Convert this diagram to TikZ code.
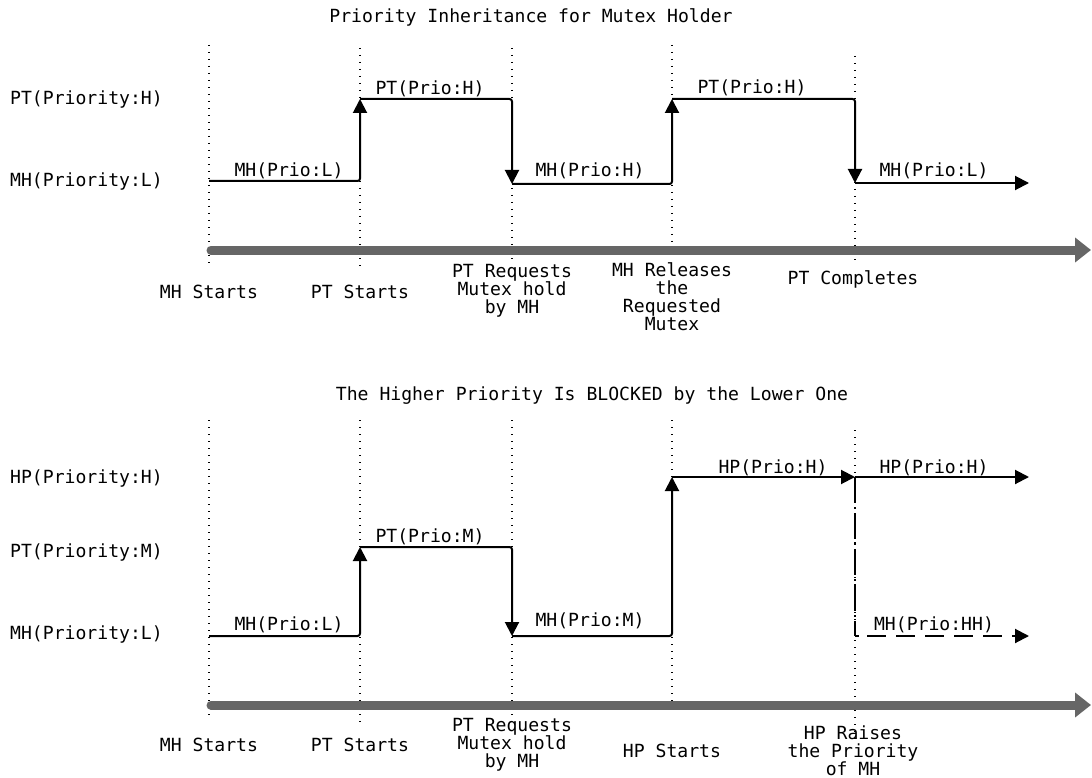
\documentclass[tikz,border=0pt]{standalone}
\usepackage{fontspec}
\setmonofont{DejaVu Sans Mono}
\usetikzlibrary{arrows.meta}
\begin{document}
\begin{tikzpicture}[x=1pt,y=-1pt,
  every node/.style={font=\ttfamily\fontsize{18.1}{18}\selectfont, inner sep=0pt},
  guide/.style={line width=1.4pt, dash pattern=on 1.4pt off 5.6pt, black},
  sig/.style={line width=2pt, rounded corners=2.5pt, -{Triangle[length=14pt,width=14pt]}},
  sigplain/.style={line width=2pt},
  axis/.style={line width=9pt, draw=black!60, line cap=round, -{Triangle[length=16pt,width=24pt]}},
  evt/.style={align=center},
  lvl/.style={anchor=west},
  dashdot/.style={line width=2pt, dash pattern=on 26pt off 4pt on 2pt off 4pt},
  dashline/.style={line width=2pt, dash pattern=on 19pt off 10pt, -{Triangle[length=14pt,width=14pt]}}
]
\useasboundingbox (0,0) rectangle (1092,778);

% ---------------- top panel ----------------
\node (t1) at (531,17) {Priority Inheritance for Mutex Holder};

\foreach \n/\x/\a/\b in {ga/209/45/266, gb/360/48/270, gc/512/48/264, gd/672/45/250, ge/855/56/262}{
  \coordinate (\n1) at (\x,\a); \coordinate (\n2) at (\x,\b);
  \draw[guide] (\n1) -- (\n2);
}

\node[lvl] (lvH) at (10,100) {PT(Priority:H)};
\node[lvl] (lvL) at (10,182) {MH(Priority:L)};

\coordinate (s0) at (209,181);
\coordinate (s1) at (360,181);
\coordinate (s2) at (360,99);
\coordinate (s3) at (512,99);
\coordinate (s4) at (512,184);
\coordinate (s5) at (672,184);
\coordinate (s6) at (672,99);
\coordinate (s7) at (855,99);
\coordinate (s8) at (855,183);
\coordinate (s9) at (1029,183);
\draw[sig] (s0) -- (s1) -- (s2);
\draw[sig] (s2) -- (s3) -- (s4);
\draw[sig] (s4) -- (s5) -- (s6);
\draw[sig] (s6) -- (s7) -- (s8);
\draw[sig] (s8) -- (s9);

\node (l1) at (289,171) {MH(Prio:L)};
\node (l2) at (430,89) {PT(Prio:H)};
\node (l3) at (590,171) {MH(Prio:H)};
\node (l4) at (752,88) {PT(Prio:H)};
\node (l5) at (934,171) {MH(Prio:L)};

\coordinate (ax0) at (211,250);
\coordinate (ax1) at (1091,250);
\draw[axis] (ax0) -- (ax1);

\node[evt] (e1) at (209,292) {MH Starts};
\node[evt] (e2) at (360,292) {PT Starts};
\node[evt] (e3) at (512,291) {PT Requests\\Mutex hold\\by MH};
\node[evt] (e4) at (672,297) {MH Releases\\the\\Requested\\Mutex};
\node[evt] (e5) at (853,279) {PT Completes};

% ---------------- bottom panel ----------------
\node (t2) at (592,396) {The Higher Priority Is BLOCKED by the Lower One};

\foreach \n/\x/\a/\b in {ha/209/420/718, hb/360/420/722, hc/512/420/718, hd/672/420/702, he/855/430/740}{
  \coordinate (\n1) at (\x,\a); \coordinate (\n2) at (\x,\b);
  \draw[guide] (\n1) -- (\n2);
}

\node[lvl] (mvH) at (10,479) {HP(Priority:H)};
\node[lvl] (mvM) at (10,553) {PT(Priority:M)};
\node[lvl] (mvL) at (10,635) {MH(Priority:L)};

\coordinate (b0) at (209,636);
\coordinate (b1) at (360,636);
\coordinate (b2) at (360,547);
\coordinate (b3) at (512,547);
\coordinate (b4) at (512,636);
\coordinate (b5) at (672,636);
\coordinate (b6) at (672,477);
\coordinate (b7) at (855,477);
\coordinate (b8) at (1029,477);
\coordinate (b9) at (855,636);
\coordinate (b10) at (1029,636);
\draw[sig] (b0) -- (b1) -- (b2);
\draw[sig] (b2) -- (b3) -- (b4);
\draw[sig] (b4) -- (b5) -- (b6);
\draw[sig] (b6) -- (b7);
\draw[sig] (b7) -- (b8);
\draw[dashdot] (b7) -- (b9);
\draw[sigplain] (b9) -- ++(4,0);
\draw[dashline] ([xshift=12pt]b9) -- (b10);

\node (m1) at (289,625) {MH(Prio:L)};
\node (m2) at (430,537) {PT(Prio:M)};
\node (m3) at (590,621) {MH(Prio:M)};
\node (m4) at (773,468) {HP(Prio:H)};
\node (m5) at (934,468) {HP(Prio:H)};
\node (m6) at (934,625) {MH(Prio:HH)};

\coordinate (bx0) at (211,705);
\coordinate (bx1) at (1091,705);
\draw[axis] (bx0) -- (bx1);

\node[evt] (f1) at (209,745) {MH Starts};
\node[evt] (f2) at (360,745) {PT Starts};
\node[evt] (f3) at (512,745) {PT Requests\\Mutex hold\\by MH};
\node[evt] (f4) at (672,751) {HP Starts};
\node[evt] (f5) at (853,751) {HP Raises\\the Priority\\of MH};
\end{tikzpicture}
\end{document}
